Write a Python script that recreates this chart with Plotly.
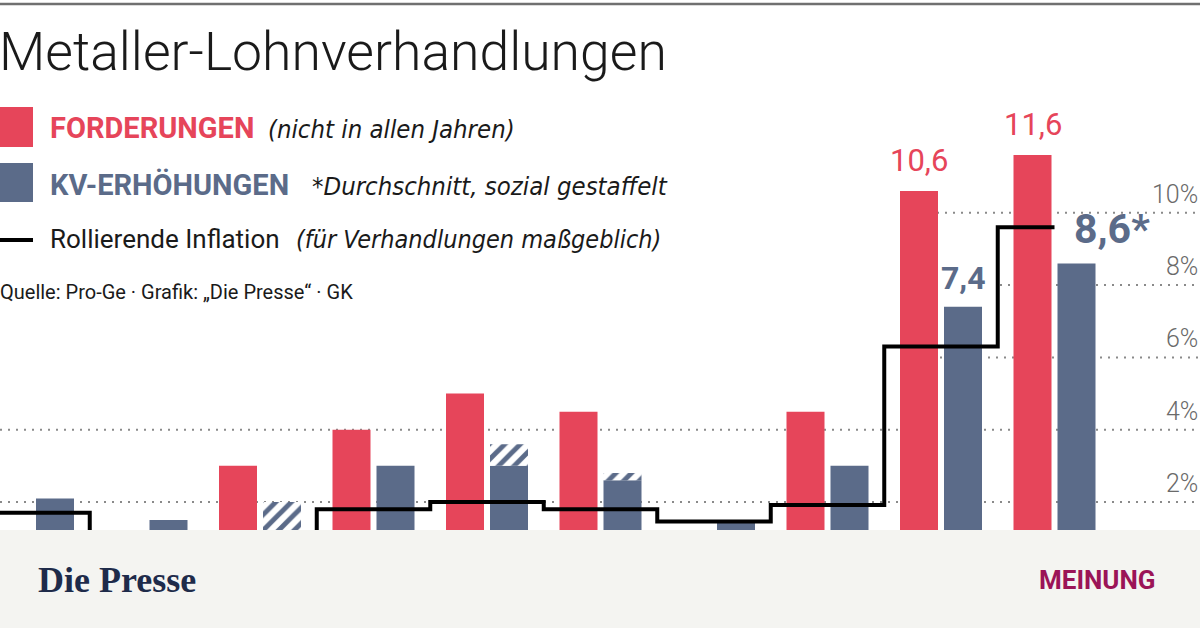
import plotly.graph_objects as go

# ---------------- data ----------------
years = ["2014", "2015", "2016", "2017", "2018", "2019", "2020", "2021", "2022", "2023"]
forderungen = [None, None, 3.0, 4.0, 5.0, 4.5, None, 4.5, 10.6, 11.6]
kv_solid = [2.1, 1.5, None, 3.0, 3.0, 2.6, 1.45, 3.0, 7.4, 8.6]
kv_hatch_base = [None, None, 0.0, None, 3.0, 2.6, None, None, None, None]
kv_hatch_top = [None, None, 2.0, None, 3.6, 2.8, None, None, None, None]
inflation = [1.7, 0.9, 0.7, 1.8, 2.0, 1.8, 1.46, 1.92, 6.3, 9.6]
y_ticks = [2, 4, 6, 8, 10]
red_labels = {8: "10,6", 9: "11,6"}
blue_labels = {8: "7,4"}
blue_star_label = {9: "8,6*"}

# ---------------- style ----------------
RED = "#e6455a"
BLUE = "#5b6b89"
W, H = 1200, 628
GROUP_PX = 113.5
CENTER0_PX = 33.0
BAR_W = 38 / GROUP_PX
RED_OFF = -41 / GROUP_PX
BLUE_OFF = 3 / GROUP_PX
Y_PX_PER_UNIT = 36.15
Y0_PX = 574.3
COND_A = "Noto Sans Condensed, Roboto, sans-serif"
COND_B = "DejaVu Sans Condensed, Roboto, sans-serif"

x_idx = list(range(len(years)))
xr = [(0 - CENTER0_PX) / GROUP_PX, (W - CENTER0_PX) / GROUP_PX]
yr = [-(H - Y0_PX) / Y_PX_PER_UNIT, Y0_PX / Y_PX_PER_UNIT]

fig = go.Figure()

rx = [i for i, v in zip(x_idx, forderungen) if v is not None]
ry = [v for v in forderungen if v is not None]
fig.add_trace(go.Bar(x=rx, y=ry, width=BAR_W, offset=RED_OFF,
                     marker=dict(color=RED, line=dict(width=0)), showlegend=False,
                     hoverinfo="skip"))

bx = [i for i, v in zip(x_idx, kv_solid) if v is not None]
by = [v for v in kv_solid if v is not None]
fig.add_trace(go.Bar(x=bx, y=by, width=BAR_W, offset=BLUE_OFF,
                     marker=dict(color=BLUE, line=dict(width=0)), showlegend=False,
                     hoverinfo="skip"))

hx = [i for i, v in zip(x_idx, kv_hatch_top) if v is not None]
hb = [kv_hatch_base[i] for i in hx]
hy = [kv_hatch_top[i] - kv_hatch_base[i] for i in hx]
fig.add_trace(go.Bar(x=hx, y=hy, base=hb, width=BAR_W, offset=BLUE_OFF,
                     marker=dict(color="white", line=dict(width=0),
                                 pattern=dict(shape="/", fgcolor=BLUE, bgcolor="white",
                                              size=11, solidity=0.45, fillmode="replace")),
                     showlegend=False, hoverinfo="skip"))

lx = [i - 0.5 for i in x_idx] + [x_idx[-1]]
ly = inflation + [inflation[-1]]
fig.add_trace(go.Scatter(x=lx, y=ly, mode="lines", line=dict(color="black", width=4, shape="hv"),
                         showlegend=False, hoverinfo="skip"))

shapes = []
grid_start_px = [0, 0, 940, 1000, 937]
for v, x0 in zip(y_ticks, grid_start_px):
    shapes.append(dict(type="line", xref="paper", yref="y", x0=x0 / W, x1=1, y0=v, y1=v,
                       line=dict(color="#8a8a8a", width=2, dash="2px,6px"), layer="below"))
shapes.append(dict(type="line", xref="paper", yref="paper", x0=0, x1=1,
                   y0=1 - 4 / H, y1=1 - 4 / H, line=dict(color="#707070", width=2.5)))
shapes.append(dict(type="rect", xref="paper", yref="paper", x0=0, x1=1, y0=0, y1=(H - 530) / H,
                   fillcolor="#f4f4f1", line=dict(width=0), layer="above"))
shapes.append(dict(type="rect", xref="paper", yref="paper", x0=0, x1=33 / W,
                   y0=1 - 147 / H, y1=1 - 107 / H, fillcolor=RED, line=dict(width=0)))
shapes.append(dict(type="rect", xref="paper", yref="paper", x0=0, x1=33 / W,
                   y0=1 - 202 / H, y1=1 - 163 / H, fillcolor=BLUE, line=dict(width=0)))
shapes.append(dict(type="line", xref="paper", yref="paper", x0=0, x1=33 / W,
                   y0=1 - 240 / H, y1=1 - 240 / H, line=dict(color="black", width=4)))

ann = []


def ptxt(text, xpx, ypx, size, color="#1a1a1a", family=COND_A, weight=400, style="normal",
         xanchor="left"):
    ann.append(dict(text=text, xref="paper", yref="paper", x=xpx / W, y=1 - ypx / H,
                    xanchor=xanchor, yanchor="middle", showarrow=False,
                    font=dict(size=size, color=color, family=family, weight=weight, style=style)))


ptxt("Metaller-Lohnverhandlungen", -3, 52, 53.5, family="Roboto, sans-serif", weight=300)
ptxt("FORDERUNGEN", 48, 128, 29, color=RED, family=COND_A, weight=700)
ptxt("(nicht in allen Jahren)", 266, 129, 25.5, family=COND_B, style="italic")
ptxt("KV-ERHÖHUNGEN", 48, 185, 29, color=BLUE, family=COND_A, weight=700)
ptxt("*Durchschnitt, sozial gestaffelt", 310, 186, 25.5, family=COND_B, style="italic")
ptxt("Rollierende Inflation", 48, 239, 26, family=COND_A)
ptxt("(für Verhandlungen maßgeblich)", 294, 239, 25, family=COND_B, style="italic")
ptxt("Quelle: Pro-Ge · Grafik: „Die Presse“ · GK", -2, 292, 20, family=COND_A)
ptxt("Die Presse", 36, 580, 36, color="#1e2b4a", family="Liberation Serif, serif", weight=700)
ptxt("MEINUNG", 1158, 580, 26, color="#9b1457", family="Roboto, sans-serif", weight=700,
     xanchor="right")

for v in y_ticks:
    ann.append(dict(text=f"{v}%", xref="paper", yref="y", x=1.0, y=v, xanchor="right",
                    yanchor="bottom", yshift=2, showarrow=False,
                    font=dict(size=25, color="#6a6a6a", family="Roboto, sans-serif", weight=300)))

for i, t in red_labels.items():
    ann.append(dict(text=t, x=i + RED_OFF + BAR_W / 2, y=forderungen[i], xref="x", yref="y",
                    xanchor="center", yanchor="bottom", yshift=10, showarrow=False,
                    font=dict(size=31, color=RED, family=COND_A)))
for i, t in blue_labels.items():
    ann.append(dict(text=t, x=i + BLUE_OFF + BAR_W / 2, y=kv_solid[i], xref="x", yref="y",
                    xanchor="center", yanchor="bottom", yshift=8, showarrow=False,
                    font=dict(size=32, color=BLUE, family=COND_A, weight=700)))
for i, t in blue_star_label.items():
    ann.append(dict(text=t, x=i + BLUE_OFF + 0.13, y=kv_solid[i], xref="x", yref="y",
                    xanchor="left", yanchor="bottom", yshift=8, showarrow=False,
                    font=dict(size=41, color=BLUE, family=COND_A, weight=700)))

fig.update_layout(
    width=W, height=H, margin=dict(l=0, r=0, t=0, b=0),
    paper_bgcolor="white", plot_bgcolor="rgba(0,0,0,0)",
    barmode="overlay", showlegend=False, hovermode=False,
    xaxis=dict(range=xr, visible=False, fixedrange=True),
    yaxis=dict(range=yr, visible=False, fixedrange=True),
    shapes=shapes, annotations=ann,
)

fig.write_html("out.html", config={"displayModeBar": False, "staticPlot": True},
               post_script="document.body.style.margin='0';document.body.style.padding='0';"
                           "document.body.style.overflow='hidden';")
